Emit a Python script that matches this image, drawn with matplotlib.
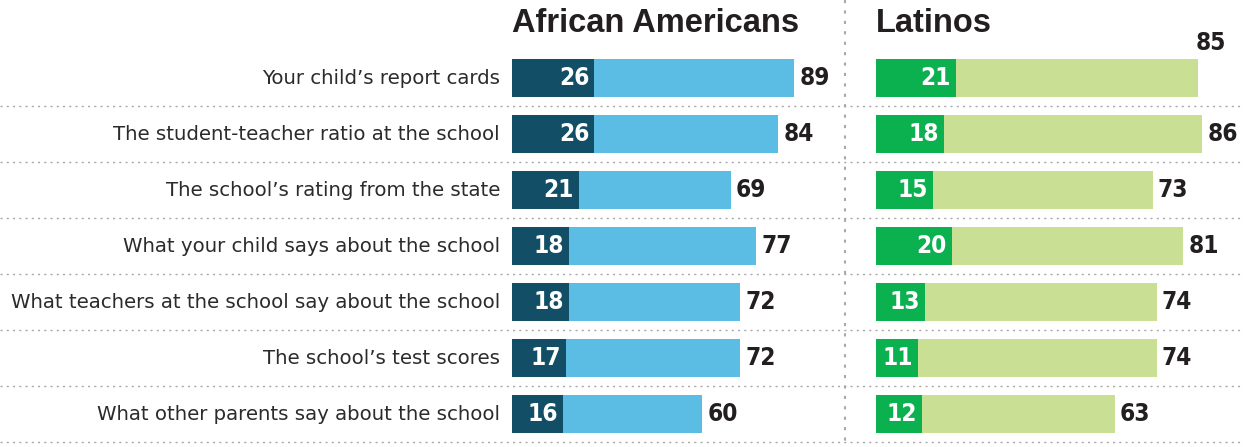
import matplotlib.pyplot as plt
from matplotlib.transforms import offset_copy

categories = [
    "Your child\u2019s report cards",
    "The student-teacher ratio at the school",
    "The school\u2019s rating from the state",
    "What your child says about the school",
    "What teachers at the school say about the school",
    "The school\u2019s test scores",
    "What other parents say about the school",
]
aa_strong = [26, 26, 21, 18, 18, 17, 16]
aa_total = [89, 84, 69, 77, 72, 72, 60]
lat_strong = [21, 18, 15, 20, 13, 11, 12]
lat_total = [85, 86, 73, 81, 74, 74, 63]

W, H = 1244, 447
fig = plt.figure(figsize=(W / 100, H / 100), dpi=100)

num_font = dict(family='DejaVu Sans', fontstretch='condensed', fontweight='bold', fontsize=17.5)
label_font = ['Liberation Sans', 'DejaVu Sans']

# background: dotted separators and the vertical divider
bg = fig.add_axes([0, 0, 1, 1])
bg.set_xlim(0, W)
bg.set_ylim(H, 0)
bg.axis('off')
for i in range(len(categories)):
    y = 106 + 56 * i
    bg.plot([0, W], [y, y], color='#a8a8a8', lw=1, ls=(0, (1.5, 3)))
bg.plot([845, 845], [0, H], color='#a8a8a8', lw=1.5, ls=(0, (1.5, 3.5)))


def panel(left, width, xmax, strong, total, dark, light, title, lift=()):
    ax = fig.add_axes([left / W, 5 / H, width / W, 392 / H])
    ax.set_xlim(0, xmax)
    ax.set_ylim(len(categories) - 0.5, -0.5)
    ax.axis('off')
    ys = range(len(categories))
    ax.barh(ys, total, height=0.68, color=light, lw=0)
    ax.barh(ys, strong, height=0.68, color=dark, lw=0)
    for y, s, t in zip(ys, strong, total):
        ax.text(s, y, str(s), transform=offset_copy(ax.transData, fig, x=-5, y=0, units='dots'),
                ha='right', va='center', color='white', **num_font)
        # label would run off the right edge: lift it above the bar end
        if y in lift:
            ax.text(t, y - 0.62, str(t), transform=offset_copy(ax.transData, fig, x=-3, y=0, units='dots'),
                    ha='left', va='center', color='#231f20', **num_font)
        else:
            ax.text(t, y, str(t), transform=offset_copy(ax.transData, fig, x=5, y=0, units='dots'),
                    ha='left', va='center', color='#231f20', **num_font)
    fig.text(left / W, 1 - 23 / H, title, ha='left', va='center', fontsize=23.5,
             fontweight='bold', color='#231f20', family=label_font)
    return ax


ax_aa = panel(512, 333, 105, aa_strong, aa_total, '#124f66', '#5bbde4', 'African Americans')
ax_lat = panel(876, 368, 97, lat_strong, lat_total, '#0bb04f', '#c9df93', 'Latinos', lift=(0,))

for i, c in enumerate(categories):
    ax_aa.text(0, i, c, transform=offset_copy(ax_aa.transData, fig, x=-12, y=0, units='dots'),
               ha='right', va='center', fontsize=14.2, color='#2b2b2b', family='DejaVu Sans')

fig.savefig('out.png', dpi=100)
